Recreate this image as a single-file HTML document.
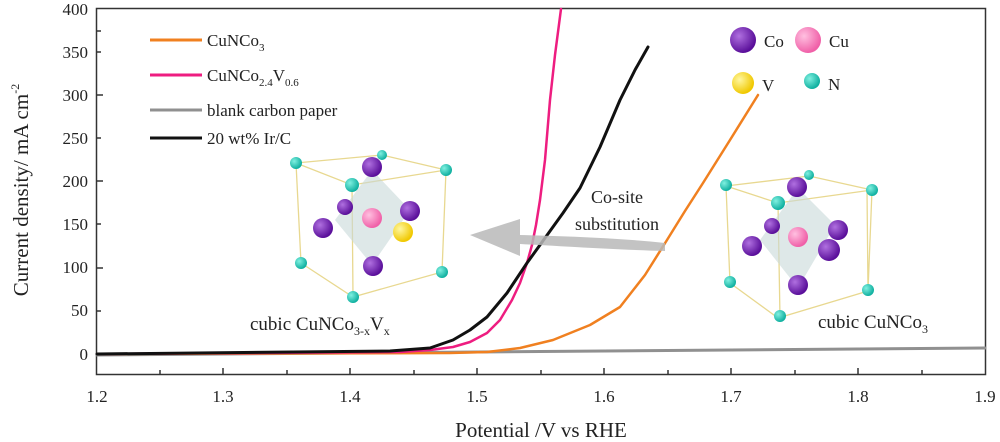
<!DOCTYPE html>
<html><head><meta charset="utf-8"><style>
body{margin:0;background:#fff;}
svg{display:block;font-family:"Liberation Serif",serif;}
</style></head><body>
<svg width="1000" height="442" viewBox="0 0 1000 442" xmlns="http://www.w3.org/2000/svg">
<defs>
<radialGradient id="co" cx="35%" cy="35%" r="65%"><stop offset="0" stop-color="#b070e0"/><stop offset="1" stop-color="#5a0f9a"/></radialGradient>
<radialGradient id="cu" cx="35%" cy="35%" r="65%"><stop offset="0" stop-color="#ffc0e0"/><stop offset="1" stop-color="#f060a8"/></radialGradient>
<radialGradient id="v" cx="35%" cy="35%" r="65%"><stop offset="0" stop-color="#fff7a0"/><stop offset="1" stop-color="#f0c800"/></radialGradient>
<radialGradient id="n" cx="35%" cy="35%" r="65%"><stop offset="0" stop-color="#80f0e0"/><stop offset="1" stop-color="#10b0a0"/></radialGradient>
</defs>
<rect x="96.5" y="8.5" width="889" height="366" fill="none" stroke="#333" stroke-width="1.5"/>
<g stroke="#333" stroke-width="1.5">
<line x1="96" y1="354" x2="103" y2="354"/><line x1="96" y1="311" x2="101" y2="311"/>
<line x1="96" y1="268" x2="103" y2="268"/><line x1="96" y1="224" x2="101" y2="224"/>
<line x1="96" y1="181" x2="103" y2="181"/><line x1="96" y1="138" x2="101" y2="138"/>
<line x1="96" y1="95" x2="103" y2="95"/><line x1="96" y1="52" x2="101" y2="52"/>
<line x1="96" y1="31" x2="101" y2="31"/>
<line x1="160" y1="375" x2="160" y2="370"/><line x1="223" y1="375" x2="223" y2="368"/>
<line x1="287" y1="375" x2="287" y2="370"/><line x1="350" y1="375" x2="350" y2="368"/>
<line x1="414" y1="375" x2="414" y2="370"/><line x1="477" y1="375" x2="477" y2="368"/>
<line x1="541" y1="375" x2="541" y2="370"/><line x1="604" y1="375" x2="604" y2="368"/>
<line x1="668" y1="375" x2="668" y2="370"/><line x1="731" y1="375" x2="731" y2="368"/>
<line x1="795" y1="375" x2="795" y2="370"/><line x1="858" y1="375" x2="858" y2="368"/>
<line x1="922" y1="375" x2="922" y2="370"/>
</g>
<g font-size="17" fill="#222" text-anchor="end">
<text x="88" y="360">0</text><text x="88" y="316">50</text><text x="88" y="273">100</text>
<text x="88" y="230">150</text><text x="88" y="187">200</text><text x="88" y="144">250</text>
<text x="88" y="101">300</text><text x="88" y="58">350</text><text x="88" y="15">400</text>
</g>
<g font-size="17" fill="#222" text-anchor="middle">
<text x="97" y="402">1.2</text><text x="223" y="402">1.3</text><text x="350" y="402">1.4</text>
<text x="477" y="402">1.5</text><text x="604" y="402">1.6</text><text x="731" y="402">1.7</text>
<text x="858" y="402">1.8</text><text x="985" y="402">1.9</text>
</g>
<text x="541" y="437" font-size="21" text-anchor="middle" fill="#222">Potential /V vs RHE</text>
<text transform="translate(28,190) rotate(-90)" font-size="21" text-anchor="middle" fill="#222">Current density/ mA cm<tspan dy="-9" font-size="12">-2</tspan></text>
<g fill="none" stroke-linejoin="round" stroke-linecap="round">
<path d="M97,355 L985,348" stroke="#909090" stroke-width="3"/>
<polyline points="97,354 450,353 487,352 520,348 553,340 590,325 620,307 645,275 667,240 685,211 703,183 730,140 758,95" stroke="#f08020" stroke-width="2.5"/>
<polyline points="97,354 400,352 430,350 453,347 470,342 487,333 500,320 512,300 520,283 527,263 532,245 536,225 540,200 545,160 550,100 555,55 561,9" stroke="#ee1d80" stroke-width="2.5"/>
<polyline points="97,354 390,351 430,348 453,340 470,330 487,317 507,293 527,263 545,238 563,213 580,188 600,147 620,100 635,70 648,47" stroke="#111" stroke-width="3"/>
</g>
<g stroke-width="3">
<line x1="150" y1="40" x2="202" y2="40" stroke="#f08020"/>
<line x1="150" y1="75" x2="202" y2="75" stroke="#ee1d80"/>
<line x1="150" y1="110" x2="202" y2="110" stroke="#909090"/>
<line x1="150" y1="138" x2="202" y2="138" stroke="#111"/>
</g>
<g font-size="17" fill="#222">
<text x="207" y="46">CuNCo<tspan dy="5" font-size="11">3</tspan></text>
<text x="207" y="81">CuNCo<tspan dy="5" font-size="11">2.4</tspan><tspan dy="-5">V</tspan><tspan dy="5" font-size="11">0.6</tspan></text>
<text x="207" y="116">blank carbon paper</text>
<text x="207" y="144">20 wt% Ir/C</text>
</g>
<circle cx="743" cy="40" r="13" fill="url(#co)"/><text x="764" y="47" font-size="17" fill="#222">Co</text>
<circle cx="808" cy="40" r="13" fill="url(#cu)"/><text x="829" y="47" font-size="17" fill="#222">Cu</text>
<circle cx="743" cy="83" r="11" fill="url(#v)"/><text x="762" y="91" font-size="17" fill="#222">V</text>
<circle cx="812" cy="81" r="8" fill="url(#n)"/><text x="828" y="90" font-size="17" fill="#222">N</text>
<path d="M665,243 C620,238 560,236 520,235 L520,219 L470,235 L520,256 L520,244 C560,246 620,250 665,251 Z" fill="#b8b8b8" opacity="0.85"/>
<text x="617" y="203" font-size="18" text-anchor="middle" fill="#222">Co-site</text>
<text x="617" y="230" font-size="18" text-anchor="middle" fill="#222">substitution</text>
<g stroke="#e8d890" stroke-width="1.3" fill="none">
<path d="M726,186 L809,176 L872,190 L778,203 Z M730,283 L778,318 L868,291 L867,190 M726,186 L730,283 M778,203 L780,318 M872,190 L868,291"/>
</g>
<path d="M798,188 L835,225 L798,288 L760,240 Z" fill="#c8d8d8" opacity="0.6"/>
<circle cx="797" cy="187" r="10" fill="url(#co)"/>
<circle cx="772" cy="226" r="8" fill="url(#co)"/>
<circle cx="838" cy="230" r="10" fill="url(#co)"/>
<circle cx="752" cy="246" r="10" fill="url(#co)"/>
<circle cx="829" cy="250" r="11" fill="url(#co)"/>
<circle cx="798" cy="285" r="10" fill="url(#co)"/>
<circle cx="798" cy="237" r="10" fill="url(#cu)"/>
<g fill="url(#n)"><circle cx="726" cy="185" r="6"/><circle cx="809" cy="175" r="5"/><circle cx="872" cy="190" r="6"/><circle cx="778" cy="203" r="7"/><circle cx="730" cy="282" r="6"/><circle cx="868" cy="290" r="6"/><circle cx="780" cy="316" r="6"/></g>
<text x="818" y="328" font-size="19" fill="#222">cubic CuNCo<tspan dy="5" font-size="12">3</tspan></text>
<g stroke="#e8d890" stroke-width="1.3" fill="none">
<path d="M296,163 L382,155 L446,170 L352,185 Z M301,263 L353,297 L442,272 L446,170 M296,163 L301,263 M352,185 L353,297"/>
</g>
<path d="M372,170 L410,210 L372,265 L335,220 Z" fill="#c8d8d8" opacity="0.6"/>
<circle cx="372" cy="167" r="10" fill="url(#co)"/>
<circle cx="345" cy="207" r="8" fill="url(#co)"/>
<circle cx="410" cy="211" r="10" fill="url(#co)"/>
<circle cx="323" cy="228" r="10" fill="url(#co)"/>
<circle cx="403" cy="232" r="10" fill="url(#v)"/>
<circle cx="373" cy="266" r="10" fill="url(#co)"/>
<circle cx="372" cy="218" r="10" fill="url(#cu)"/>
<g fill="url(#n)"><circle cx="296" cy="163" r="6"/><circle cx="382" cy="155" r="5"/><circle cx="446" cy="170" r="6"/><circle cx="352" cy="185" r="7"/><circle cx="301" cy="263" r="6"/><circle cx="442" cy="272" r="6"/><circle cx="353" cy="297" r="6"/></g>
<text x="250" y="330" font-size="19" fill="#222">cubic CuNCo<tspan dy="5" font-size="12">3-x</tspan><tspan dy="-5">V</tspan><tspan dy="5" font-size="12">x</tspan></text>
</svg>
</body></html>
